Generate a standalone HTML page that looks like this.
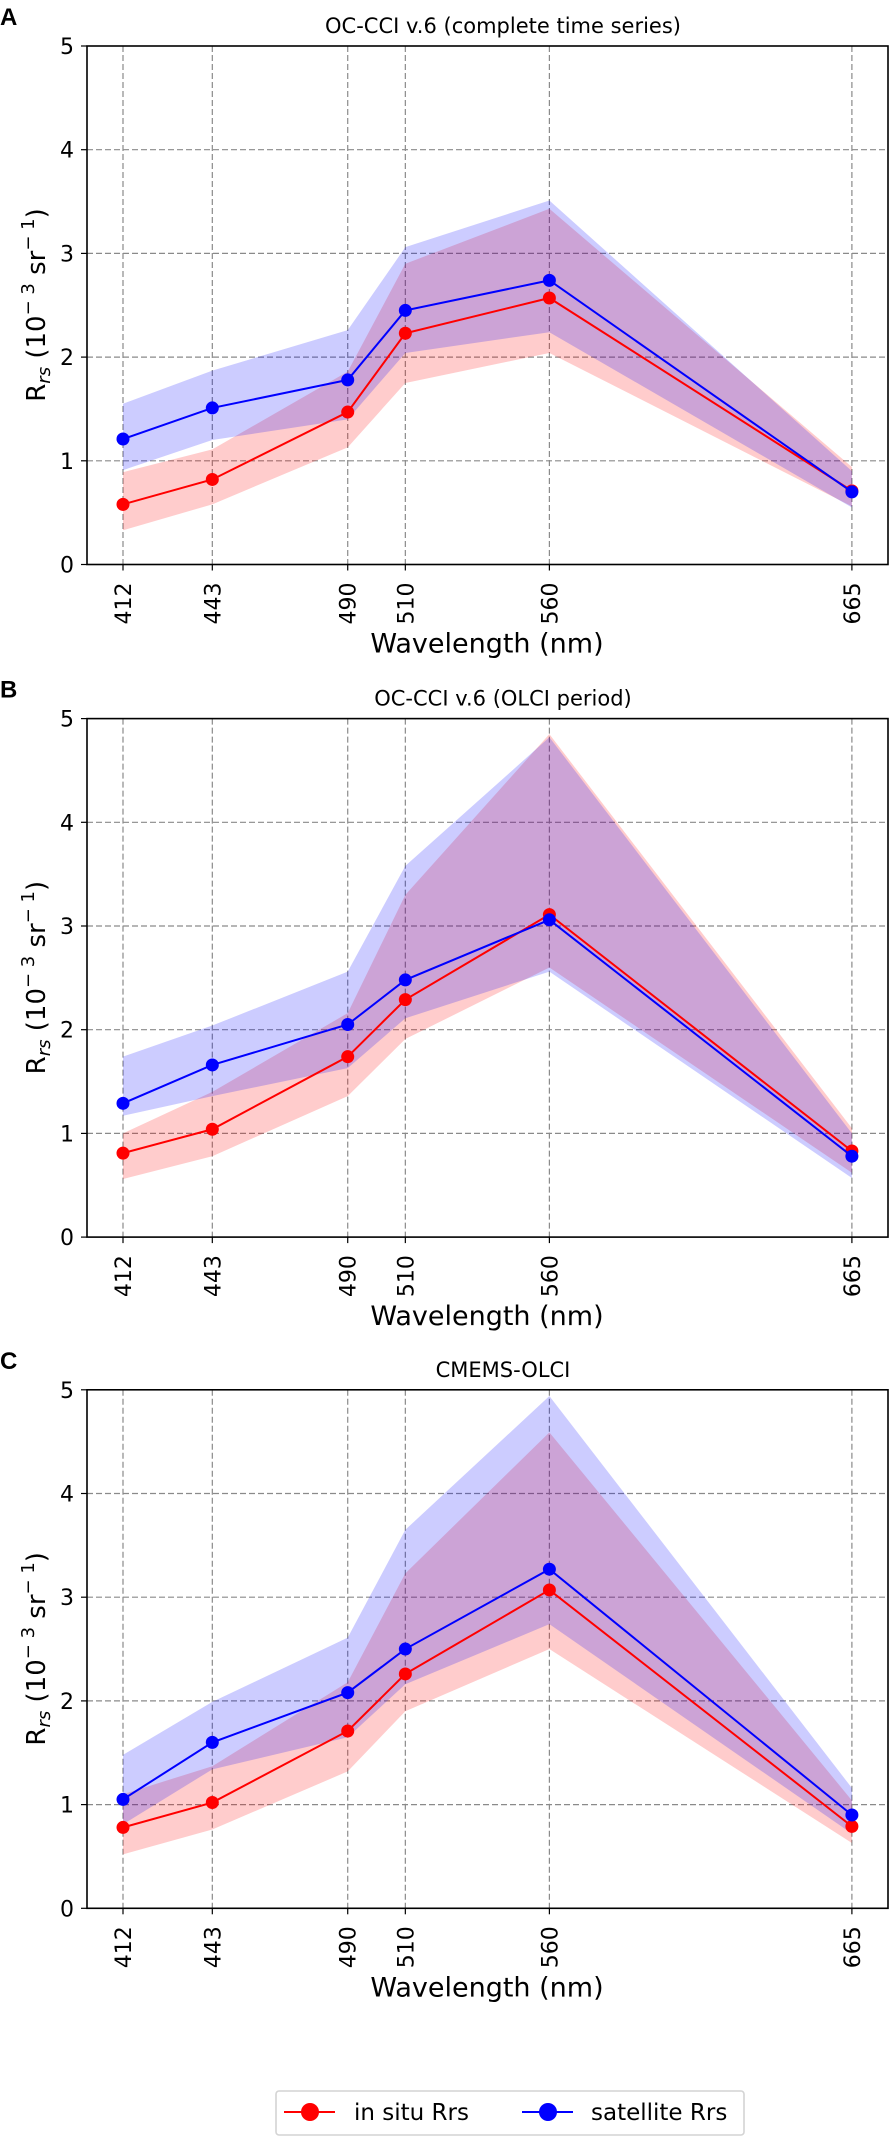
<!DOCTYPE html>
<html><head><meta charset="utf-8"><style>
html,body{margin:0;padding:0;background:#fff;}
svg{display:block;font-family:"DejaVu Sans","Liberation Sans",sans-serif;}
</style></head><body>
<svg id="fig" width="896" height="2143" viewBox="0 0 896 2143" xmlns="http://www.w3.org/2000/svg"></svg>
<script>
const wavelengths = [412, 443, 490, 510, 560, 665];
const yTicks = [0, 1, 2, 3, 4, 5];
const panelLetters = ['A', 'B', 'C'];
const panelTitles = ['OC-CCI v.6 (complete time series)', 'OC-CCI v.6 (OLCI period)', 'CMEMS-OLCI'];
// Panel A
const aInsitu = [0.58, 0.82, 1.47, 2.23, 2.57, 0.71];
const aInsituLo = [0.33, 0.58, 1.13, 1.75, 2.04, 0.56];
const aInsituHi = [0.89, 1.11, 1.86, 2.90, 3.43, 0.94];
const aSat = [1.21, 1.51, 1.78, 2.45, 2.74, 0.70];
const aSatLo = [0.91, 1.20, 1.40, 2.04, 2.24, 0.55];
const aSatHi = [1.55, 1.87, 2.26, 3.06, 3.51, 0.90];
// Panel B
const bInsitu = [0.81, 1.04, 1.74, 2.29, 3.11, 0.83];
const bInsituLo = [0.56, 0.78, 1.36, 1.91, 2.60, 0.62];
const bInsituHi = [1.00, 1.40, 2.16, 3.30, 4.85, 1.05];
const bSat = [1.29, 1.66, 2.05, 2.48, 3.06, 0.78];
const bSatLo = [1.17, 1.36, 1.63, 2.11, 2.56, 0.57];
const bSatHi = [1.74, 2.04, 2.56, 3.58, 4.82, 1.00];
// Panel C
const cInsitu = [0.78, 1.02, 1.71, 2.26, 3.07, 0.79];
const cInsituLo = [0.52, 0.76, 1.32, 1.90, 2.50, 0.63];
const cInsituHi = [1.10, 1.37, 2.18, 3.23, 4.59, 1.04];
const cSat = [1.05, 1.60, 2.08, 2.50, 3.27, 0.90];
const cSatLo = [0.81, 1.34, 1.65, 2.16, 2.74, 0.72];
const cSatHi = [1.48, 1.99, 2.61, 3.65, 4.94, 1.16];

const panels = [
  {ins: aInsitu, insLo: aInsituLo, insHi: aInsituHi, sat: aSat, satLo: aSatLo, satHi: aSatHi},
  {ins: bInsitu, insLo: bInsituLo, insHi: bInsituHi, sat: bSat, satLo: bSatLo, satHi: bSatHi},
  {ins: cInsitu, insLo: cInsituLo, insHi: cInsituHi, sat: cSat, satLo: cSatLo, satHi: cSatHi}
];
const tops = [46, 718.6, 1389.8];
const NS = 'http://www.w3.org/2000/svg';
const svg = document.getElementById('fig');
const L = 87, R = 888, PH = 518.5;
function xs(w){ return 123 + (w - 412) * 2.881; }
function mk(tag, attrs, parent){
  const e = document.createElementNS(NS, tag);
  for (const k in attrs) e.setAttribute(k, attrs[k]);
  (parent || svg).appendChild(e);
  return e;
}
panels.forEach((p, i) => {
  const top = tops[i], bot = top + PH;
  const ys = v => bot - v / 5 * PH;
  const g = mk('g', {});
  
  
  const letter = mk('text', {x: 0, y: top - 21, 'font-size': 24, 'font-weight': 'bold', fill: '#000', 'font-family': 'Liberation Sans, sans-serif'}, g);
  letter.textContent = panelLetters[i];
  
  
  const t = mk('text', {x: 503, y: top - 13, 'font-size': 21, 'text-anchor': 'middle', fill: '#000'}, g);
  t.textContent = panelTitles[i];
  
  
  yTicks.forEach(v => {
    if (v > 0 && v < 5) {
      const gl = mk('line', {x1: L, x2: R, y1: ys(v), y2: ys(v), stroke: '#8a8a8a', 'stroke-width': 1.2, 'stroke-dasharray': '6,3'}, g);
      
      
    }
    const tk = mk('line', {x1: L - 6, x2: L, y1: ys(v), y2: ys(v), stroke: '#000', 'stroke-width': 1.2}, g);
    
    
    const tl = mk('text', {x: 74, y: ys(v) + 8, 'font-size': 22, 'text-anchor': 'end', fill: '#000'}, g);
    tl.textContent = v;
    
    
  });
  wavelengths.forEach(w => {
    const gl = mk('line', {x1: xs(w), x2: xs(w), y1: top, y2: bot, stroke: '#8a8a8a', 'stroke-width': 1.2, 'stroke-dasharray': '6,3'}, g);
    
    
    const tk = mk('line', {x1: xs(w), x2: xs(w), y1: bot, y2: bot + 6, stroke: '#000', 'stroke-width': 1.2}, g);
    
    
    const tl = mk('text', {x: 0, y: 0, 'font-size': 22, 'text-anchor': 'end', fill: '#000', transform: 'translate(' + (xs(w) + 8) + ',' + (bot + 18) + ') rotate(-90)'}, g);
    tl.textContent = w;
    
    
  });
  const band = (lo, hi, col, name) => {
    const pts = wavelengths.map((w, k) => xs(w) + ',' + ys(hi[k]))
      .concat(wavelengths.slice().reverse().map((w, k) => xs(w) + ',' + ys(lo[lo.length - 1 - k])));
    const pg = mk('polygon', {points: pts.join(' '), fill: col, 'fill-opacity': 0.2}, g);
    
    
  };
  band(p.insLo, p.insHi, '#ff0000', 'in-situ-band');
  band(p.satLo, p.satHi, '#0000ff', 'satellite-band');
  const series = (vals, col, name) => {
    const pl = mk('polyline', {points: wavelengths.map((w, k) => xs(w) + ',' + ys(vals[k])).join(' '), fill: 'none', stroke: col, 'stroke-width': 2}, g);
    
    
    wavelengths.forEach((w, k) => {
      const c = mk('circle', {cx: xs(w), cy: ys(vals[k]), r: 6.5, fill: col}, g);
      
      
    });
  };
  series(p.ins, '#ff0000', 'in-situ');
  series(p.sat, '#0000ff', 'satellite');
  const frame = mk('rect', {x: L, y: top, width: R - L, height: PH, fill: 'none', stroke: '#000', 'stroke-width': 1.6}, g);
  
  
  const xl = mk('text', {x: 487, y: bot + 88, 'font-size': 27, 'text-anchor': 'middle', fill: '#000'}, g);
  xl.textContent = 'Wavelength (nm)';
  
  
  const yl = mk('text', {x: 0, y: 0, 'font-size': 26, 'text-anchor': 'middle', fill: '#000', transform: 'translate(45,' + (top + 259) + ') rotate(-90)'}, g);
  yl.innerHTML = 'R<tspan font-size="18" font-style="italic" dy="5">rs</tspan><tspan dy="-5"> (10</tspan><tspan font-size="18" dy="-11">− 3</tspan><tspan dy="11"> sr</tspan><tspan font-size="18" dy="-11">− 1</tspan><tspan dy="11">)</tspan>';
  
  
});
const lg = mk('g', {});


const lbox = mk('rect', {x: 276, y: 2091, width: 468, height: 44, rx: 3, fill: '#fff', stroke: '#d4d4d4', 'stroke-width': 1.6}, lg);


[[284, 'in situ Rrs', '#ff0000', 354, 'legend-entry-in-situ'], [522, 'satellite Rrs', '#0000ff', 591, 'legend-entry-satellite']].forEach(e => {
  const eg = mk('g', {}, lg);
  
  
  mk('line', {x1: e[0], x2: e[0] + 51, y1: 2112, y2: 2112, stroke: e[2], 'stroke-width': 2}, eg);
  mk('circle', {cx: e[0] + 26, cy: 2112, r: 9, fill: e[2]}, eg);
  const tx = mk('text', {x: e[3], y: 2120, 'font-size': 23, fill: '#000'}, eg);
  tx.textContent = e[1];
});
</script>
</body></html>
